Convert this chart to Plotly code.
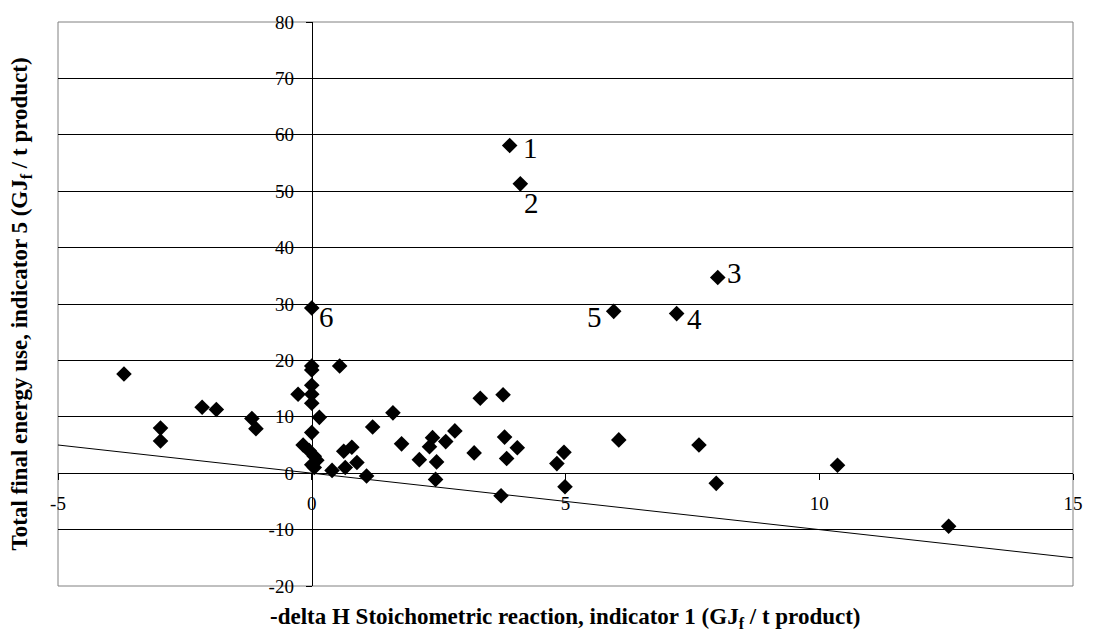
import plotly.graph_objects as go

# Data
x_vals = [-3.70, -2.98, -2.98, -2.16, -1.88, -1.18, -1.10, -0.27,
          0.00, 0.00, 0.00, 0.00, 0.00, 0.00, 0.15, 0.00, -0.17, -0.05,
          0.05, 0.10, 0.00, 0.05, 0.40, 0.55, 0.63, 0.79, 0.66, 0.89,
          1.08, 1.20, 1.60, 1.77, 2.12, 2.38, 2.32, 2.46, 2.44, 2.64,
          2.82, 3.20, 3.32, 3.77, 3.80, 3.84, 4.05, 3.73, 4.83, 4.97,
          4.99, 6.05, 3.90, 4.11, 8.00, 7.19, 5.95, 7.63, 7.97, 10.36,
          12.55]
y_vals = [17.6, 8.0, 5.7, 11.7, 11.3, 9.7, 7.9, 14.0,
          29.3, 19.0, 18.3, 15.6, 14.0, 12.4, 9.9, 7.2, 5.0, 4.0,
          3.0, 2.3, 1.5, 1.0, 0.5, 19.0, 3.9, 4.6, 1.0, 1.9,
          -0.5, 8.2, 10.7, 5.2, 2.4, 6.3, 4.7, 2.0, -1.1, 5.6,
          7.5, 3.6, 13.3, 13.9, 6.4, 2.6, 4.5, -4.0, 1.7, 3.7,
          -2.4, 5.9, 58.1, 51.3, 34.7, 28.3, 28.7, 5.0, -1.8, 1.4,
          -9.4]

# Numbered points: label text and index of the point in the arrays above
label_texts = ["1", "2", "3", "4", "5", "6"]
label_index = [50, 51, 52, 53, 54, 8]
label_shift = [(21, -2), (11, -19), (17, 4), (18, -5), (-19, -6), (15, -9)]

# Reference line (y = -x)
line_x = [-5, 15]
line_y = [5, -15]

x_tick_vals = [-5, 0, 5, 10, 15]
x_tick_text = ["-5", "0", "5", "10", "15"]
y_tick_vals = [-20, -10, 0, 10, 20, 30, 40, 50, 60, 70, 80]
y_tick_text = ["-20", "-10", "0", "10", "20", "30", "40", "50", "60", "70", "80"]

FONT = "Liberation Serif, Times New Roman, serif"

fig = go.Figure()
fig.add_trace(go.Scatter(x=line_x, y=line_y, mode="lines",
                         line=dict(color="black", width=1),
                         hoverinfo="skip", showlegend=False))
fig.add_trace(go.Scatter(x=x_vals, y=y_vals, mode="markers",
                         marker=dict(symbol="diamond", size=12, color="black",
                                     line=dict(width=0)),
                         showlegend=False))

for t, i, (dx, dy) in zip(label_texts, label_index, label_shift):
    fig.add_annotation(x=x_vals[i], y=y_vals[i], text=t, showarrow=False,
                       xshift=dx, yshift=dy,
                       font=dict(family=FONT, size=29, color="black"))

# plot border
fig.add_shape(type="rect", xref="x domain", yref="y domain",
              x0=0, x1=1, y0=0, y1=1, line=dict(color="#808080", width=1),
              layer="below")

fig.add_annotation(xref="paper", yref="paper", x=0.5, y=-0.057,
                   text="<b>-delta H Stoichometric reaction, indicator 1 (GJ<sub>f</sub> / t product)</b>",
                   showarrow=False, xanchor="center", yanchor="middle",
                   font=dict(family=FONT, size=23, color="black"))
fig.add_annotation(xref="paper", yref="paper", x=-0.036, y=0.5,
                   text="<b>Total final energy use, indicator 5 (GJ<sub>f</sub> / t product)</b>",
                   showarrow=False, xanchor="center", yanchor="middle", textangle=-90,
                   font=dict(family=FONT, size=23, color="black"))

fig.update_layout(
    width=1095, height=639,
    margin=dict(l=58, r=12, t=18, b=53),
    paper_bgcolor="white", plot_bgcolor="white",
    font=dict(family=FONT, size=19, color="black"),
    xaxis=dict(range=[-5, 15], anchor="free", position=0.2,
               tickvals=x_tick_vals, ticktext=x_tick_text,
               showgrid=False, zeroline=False, showline=True,
               linecolor="black", linewidth=1,
               ticks="outside", ticklen=6, tickcolor="black",
               ticklabelstandoff=7),
    yaxis=dict(range=[-20, 80], anchor="free", position=0.25,
               tickvals=y_tick_vals, ticktext=y_tick_text,
               showgrid=True, gridcolor="black", gridwidth=1,
               zeroline=False, showline=True,
               linecolor="black", linewidth=1,
               ticks="outside", ticklen=6, tickcolor="black",
               ticklabelstandoff=8),
)

fig.write_html("out.html")
